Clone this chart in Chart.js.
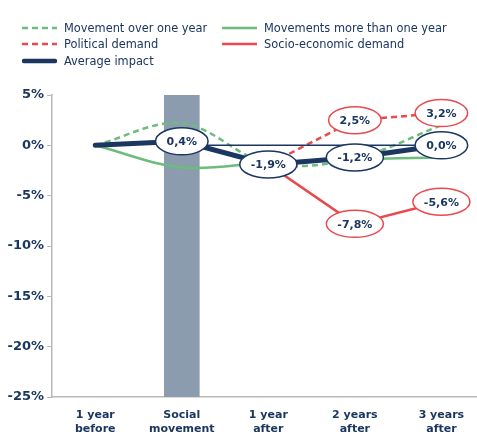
<!DOCTYPE html>
<html lang="en">
<head>
    <meta charset="UTF-8" />
    <title>Impact of social movements</title>
    <script src="https://cdn.jsdelivr.net/npm/chart.js"></script>
    <style>
        body { margin: 0; background: #fff; }
        #wrap { position: relative; width: 477px; height: 438px; }
        .legend { position: absolute; top: 0; left: 0; font-family: "DejaVu Sans", sans-serif; font-size: 11.4px; color: #1b3660; }
        .legend div { position: absolute; white-space: nowrap; display: flex; align-items: center; }
        .legend svg { margin-right: 7px; }
    </style>
</head>
<body>
    <div id="wrap">
        <canvas id="impactChart"></canvas>
        <div class="legend">
            <div style="left:22px; top:21px;"><svg width="35" height="8"><line x1="0" y1="4" x2="35" y2="4" stroke="#6cbd7c" stroke-width="2.5" stroke-dasharray="6 4"/></svg>Movement over one year</div>
            <div style="left:222px; top:21px;"><svg width="35" height="8"><line x1="0" y1="4" x2="35" y2="4" stroke="#6cbd7c" stroke-width="2.5"/></svg>Movements more than one year</div>
            <div style="left:22px; top:37px;"><svg width="35" height="8"><line x1="0" y1="4" x2="35" y2="4" stroke="#e84a4f" stroke-width="2.5" stroke-dasharray="6 4"/></svg>Political demand</div>
            <div style="left:222px; top:37px;"><svg width="35" height="8"><line x1="0" y1="4" x2="35" y2="4" stroke="#e84a4f" stroke-width="2.5"/></svg>Socio-economic demand</div>
            <div style="left:22px; top:54px;"><svg width="35" height="8"><line x1="2" y1="4" x2="33" y2="4" stroke="#1b3660" stroke-width="4.5" stroke-linecap="round"/></svg>Average impact</div>
        </div>
    </div>

    <script>
        const categories = [['1 year', 'before'], ['Social', 'movement'], ['1 year', 'after'], ['2 years', 'after'], ['3 years', 'after']];
        const overOneYear = [0, 2.2, -1.8, -1.3, 2.0];
        const moreThanOneYear = [0, -2.2, -1.7, -1.4, -1.2];
        const politicalDemand = [0, 0.5, -1.9, 2.5, 3.2];
        const socioEconomicDemand = [0, 0.3, -1.9, -7.8, -5.6];
        const averageImpact = [0, 0.4, -1.9, -1.2, 0.0];
        const zeroLine = [null, 0, 0, 0, 0];
        const movementBar = [-25, 5];   // shaded band at the "Social movement" column
        const yTicks = [5, 0, -5, -10, -15, -20, -25];

        // which points get an ellipse label
        const averageLabelled = [1, 2, 3, 4];
        const politicalLabelled = [3, 4];
        const socioLabelled = [3, 4];

        const NAVY = '#1b3660';
        const GREEN = '#6cbd7c';
        const RED = '#e84a4f';

        const pts = arr => arr.map((v, i) => ({ x: i, y: v }));
        const fmt = v => v.toFixed(1).replace('.', ',') + '%';

        const ellipseLabels = {
            id: 'ellipseLabels',
            afterDatasetsDraw(chart) {
                const ctx = chart.ctx;
                const groups = [
                    { ds: 3, values: politicalDemand, idx: politicalLabelled, color: RED },
                    { ds: 4, values: socioEconomicDemand, idx: socioLabelled, color: RED },
                    { ds: 5, values: averageImpact, idx: averageLabelled, color: NAVY }
                ];
                ctx.save();
                ctx.font = 'bold 11px "DejaVu Sans"';
                ctx.textAlign = 'center';
                ctx.textBaseline = 'middle';
                groups.forEach(g => {
                    const meta = chart.getDatasetMeta(g.ds);
                    g.idx.forEach(i => {
                        const p = meta.data[i];
                        const text = fmt(g.values[i]);
                        const rx = ctx.measureText(text).width / 2 + 11;
                        ctx.beginPath();
                        ctx.ellipse(p.x, p.y, rx, 13.5, 0, 0, Math.PI * 2);
                        ctx.fillStyle = '#fff';
                        ctx.fill();
                        ctx.lineWidth = 1.5;
                        ctx.strokeStyle = g.color;
                        ctx.stroke();
                        ctx.fillStyle = NAVY;
                        ctx.fillText(text, p.x, p.y + 1);
                    });
                });
                ctx.restore();
            }
        };

        new Chart(document.getElementById('impactChart'), {
            data: {
                datasets: [
                    {
                        type: 'bar',
                        data: [{ x: 1, y: movementBar }],
                        backgroundColor: '#8a9cad',
                        barThickness: 35,
                        order: 10
                    },
                    {
                        type: 'line',
                        data: pts(overOneYear),
                        borderColor: GREEN,
                        borderWidth: 2.5,
                        borderDash: [6, 4],
                        tension: 0.35,
                        pointRadius: 0,
                        order: 4
                    },
                    {
                        type: 'line',
                        data: pts(moreThanOneYear),
                        borderColor: GREEN,
                        borderWidth: 2.5,
                        tension: 0.35,
                        pointRadius: 0,
                        order: 5
                    },
                    {
                        type: 'line',
                        data: pts(politicalDemand),
                        borderColor: RED,
                        borderWidth: 2.5,
                        borderDash: [6, 4],
                        pointRadius: 0,
                        order: 6
                    },
                    {
                        type: 'line',
                        data: pts(socioEconomicDemand),
                        borderColor: RED,
                        borderWidth: 2.5,
                        pointRadius: 0,
                        order: 7
                    },
                    {
                        type: 'line',
                        data: pts(averageImpact),
                        borderColor: NAVY,
                        borderWidth: 5,
                        borderCapStyle: 'round',
                        pointRadius: 0,
                        order: 1
                    },
                    {
                        type: 'line',
                        data: pts(zeroLine),
                        borderColor: NAVY,
                        borderWidth: 1.5,
                        pointRadius: 0,
                        order: 3
                    }
                ]
            },
            options: {
                responsive: true,
                maintainAspectRatio: false,
                animation: false,
                layout: { padding: { top: 95, right: 1, bottom: 0, left: 0 } },
                plugins: { legend: { display: false }, tooltip: { enabled: false } },
                scales: {
                    x: {
                        type: 'linear',
                        offset: false,
                        min: -0.5,
                        max: 4.4,
                        afterBuildTicks: s => { s.ticks = categories.map((c, i) => ({ value: i })); },
                        afterFit: s => { s.height = 41; },
                        grid: { display: false, drawTicks: false },
                        border: { color: '#b8b8b8', width: 1.5 },
                        ticks: {
                            autoSkip: false,
                            maxRotation: 0,
                            padding: 11,
                            color: NAVY,
                            font: { family: 'DejaVu Sans', size: 11, weight: 'bold', lineHeight: 1.3 },
                            callback: v => categories[v]
                        }
                    },
                    y: {
                        min: -25,
                        max: 5,
                        afterBuildTicks: s => { s.ticks = yTicks.map(v => ({ value: v })); },
                        afterFit: s => { s.width = 52; },
                        grid: { drawOnChartArea: false, color: '#b8b8b8', tickLength: 5 },
                        border: { color: '#b8b8b8', width: 1.5 },
                        ticks: {
                            padding: 3,
                            color: NAVY,
                            font: { family: 'DejaVu Sans', size: 13, weight: 'bold' },
                            callback: v => v + '%'
                        }
                    }
                }
            },
            plugins: [ellipseLabels]
        });
    </script>
</body>
</html>
